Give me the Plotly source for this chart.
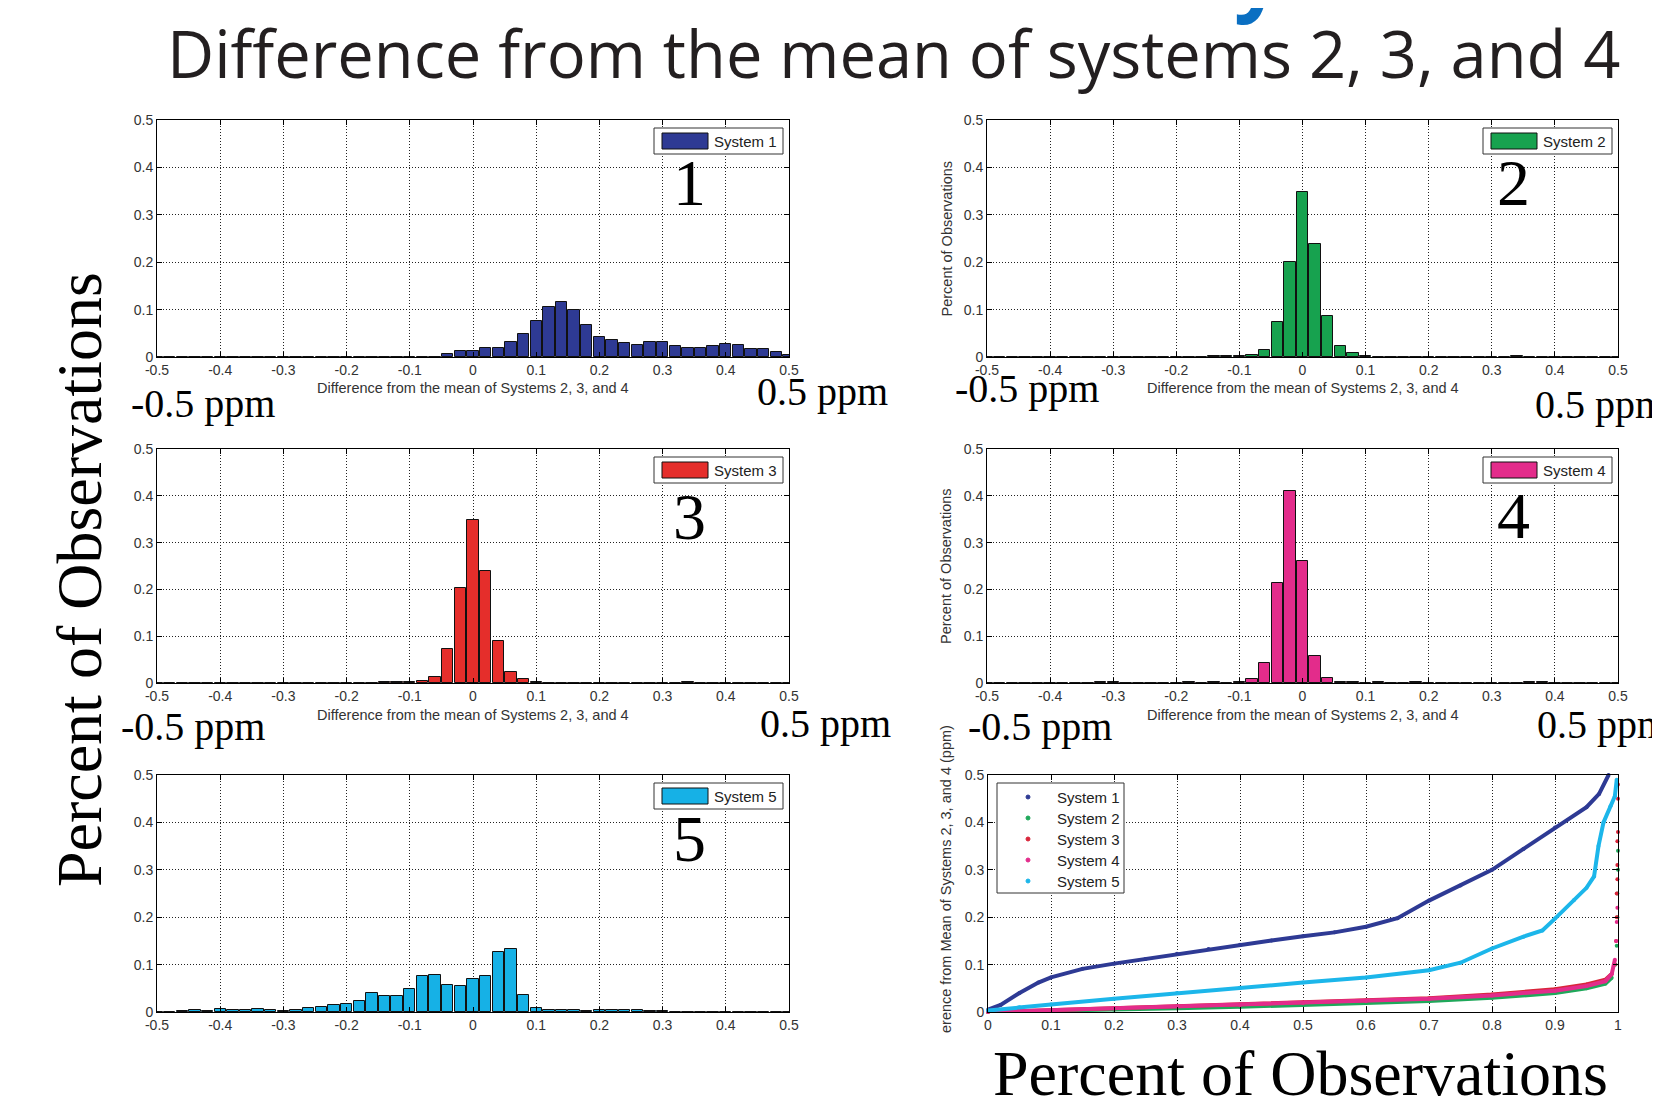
import plotly.graph_objects as go

W, H = 1660, 1105
OFF = 8  # the page body adds an 8px margin; positions below are screen pixels

# ---------------- data ----------------
bin_centers = [-0.50, -0.48, -0.46, -0.44, -0.42, -0.40, -0.38, -0.36, -0.34, -0.32,
               -0.30, -0.28, -0.26, -0.24, -0.22, -0.20, -0.18, -0.16, -0.14, -0.12,
               -0.10, -0.08, -0.06, -0.04, -0.02, 0.00, 0.02, 0.04, 0.06, 0.08,
               0.10, 0.12, 0.14, 0.16, 0.18, 0.20, 0.22, 0.24, 0.26, 0.28,
               0.30, 0.32, 0.34, 0.36, 0.38, 0.40, 0.42, 0.44, 0.46, 0.48, 0.50]

sys1_pct = [0, 0, 0, 0, 0, 0, 0, 0, 0.001, 0,
            0, 0, 0, 0.001, 0.001, 0, 0.001, 0, 0.001, 0.001,
            0.001, 0.001, 0.001, 0.007, 0.012, 0.013, 0.018, 0.018, 0.031, 0.049,
            0.075, 0.106, 0.115, 0.100, 0.068, 0.042, 0.036, 0.030, 0.026, 0.031,
            0.031, 0.023, 0.019, 0.019, 0.023, 0.028, 0.026, 0.017, 0.017, 0.010, 0.005]

sys2_pct = [0, 0, 0, 0, 0, 0, 0, 0, 0, 0,
            0, 0, 0, 0, 0, 0, 0, 0, 0.002, 0.002,
            0.002, 0.004, 0.014, 0.073, 0.200, 0.348, 0.238, 0.087, 0.024, 0.009,
            0.002, 0, 0, 0, 0, 0, 0, 0, 0, 0,
            0, 0, 0.002, 0, 0, 0, 0, 0, 0, 0, 0]

sys3_pct = [0, 0, 0, 0, 0, 0, 0, 0, 0, 0,
            0, 0, 0, 0, 0, 0, 0, 0, 0.002, 0.002,
            0.002, 0.005, 0.013, 0.072, 0.203, 0.349, 0.239, 0.089, 0.023, 0.009,
            0.002, 0, 0, 0, 0, 0, 0, 0, 0, 0,
            0, 0, 0.002, 0, 0, 0, 0, 0, 0, 0, 0]

sys4_pct = [0, 0, 0, 0, 0, 0, 0, 0, 0, 0.002,
            0.002, 0, 0, 0, 0, 0, 0.002, 0, 0.002, 0,
            0.002, 0.008, 0.043, 0.213, 0.410, 0.261, 0.057, 0.010, 0.002, 0.002,
            0, 0.002, 0, 0, 0.002, 0, 0, 0, 0, 0,
            0, 0, 0, 0.002, 0.002, 0, 0, 0, 0, 0, 0]

sys5_pct = [0.001, 0.001, 0.002, 0.005, 0.002, 0.007, 0.005, 0.005, 0.007, 0.005,
            0.002, 0.004, 0.009, 0.011, 0.014, 0.017, 0.023, 0.040, 0.033, 0.033,
            0.049, 0.075, 0.079, 0.056, 0.054, 0.070, 0.077, 0.126, 0.133, 0.035,
            0.009, 0.005, 0.005, 0.005, 0.002, 0.005, 0.005, 0.005, 0.005, 0.002,
            0.002, 0, 0, 0, 0, 0, 0, 0, 0, 0, 0]

hist_ticks = [-0.5, -0.4, -0.3, -0.2, -0.1, 0, 0.1, 0.2, 0.3, 0.4, 0.5]
hist_tick_labels = ["-0.5", "-0.4", "-0.3", "-0.2", "-0.1", "0", "0.1", "0.2", "0.3", "0.4", "0.5"]
y_ticks = [0, 0.1, 0.2, 0.3, 0.4, 0.5]
y_tick_labels = ["0", "0.1", "0.2", "0.3", "0.4", "0.5"]
cdf_ticks = [0, 0.1, 0.2, 0.3, 0.4, 0.5, 0.6, 0.7, 0.8, 0.9, 1.0]
cdf_tick_labels = ["0", "0.1", "0.2", "0.3", "0.4", "0.5", "0.6", "0.7", "0.8", "0.9", "1"]

# cumulative curves: fraction of observations vs difference (ppm)
cdf1_x = [0, 0.02, 0.05, 0.08, 0.10, 0.15, 0.20, 0.25, 0.30, 0.35, 0.40, 0.45, 0.50,
          0.55, 0.60, 0.65, 0.70, 0.75, 0.80, 0.85, 0.90, 0.95, 0.97, 0.985]
cdf1_y = [0.005, 0.015, 0.040, 0.062, 0.073, 0.091, 0.102, 0.112, 0.123, 0.133, 0.142, 0.151, 0.160,
          0.168, 0.180, 0.198, 0.235, 0.267, 0.300, 0.344, 0.389, 0.432, 0.460, 0.500]

cdf2_x = [0, 0.1, 0.2, 0.3, 0.4, 0.5, 0.6, 0.7, 0.8, 0.9, 0.95, 0.98, 0.99]
cdf2_y = [0, 0.002, 0.005, 0.008, 0.011, 0.015, 0.019, 0.023, 0.030, 0.040, 0.050, 0.060, 0.072]
cdf2_tail_x = [0.996, 0.998, 0.999, 0.999, 1.0, 1.0]
cdf2_tail_y = [0.100, 0.140, 0.200, 0.250, 0.300, 0.340]

cdf3_x = [0, 0.1, 0.2, 0.3, 0.4, 0.5, 0.6, 0.7, 0.8, 0.9, 0.95, 0.98, 0.99]
cdf3_y = [0, 0.004, 0.008, 0.012, 0.016, 0.020, 0.024, 0.029, 0.037, 0.048, 0.058, 0.068, 0.080]
cdf3_tail_x = [0.995, 0.997, 0.998, 0.998, 0.999, 0.999, 0.999, 1.0, 1.0, 1.0]
cdf3_tail_y = [0.100, 0.150, 0.200, 0.250, 0.280, 0.310, 0.360, 0.380, 0.450, 0.480]

cdf4_x = [0, 0.1, 0.2, 0.3, 0.4, 0.5, 0.6, 0.7, 0.8, 0.9, 0.95, 0.98, 0.99, 0.995]
cdf4_y = [0, 0.004, 0.008, 0.012, 0.015, 0.019, 0.023, 0.028, 0.035, 0.045, 0.055, 0.065, 0.080, 0.110]
cdf4_tail_x = [0.997, 0.998, 0.999]
cdf4_tail_y = [0.150, 0.190, 0.220]

cdf5_x = [0, 0.05, 0.10, 0.20, 0.30, 0.40, 0.50, 0.60, 0.70, 0.75, 0.80, 0.85, 0.88, 0.90,
          0.93, 0.95, 0.962, 0.969, 0.977, 0.988, 0.995, 0.998]
cdf5_y = [0.003, 0.010, 0.016, 0.028, 0.040, 0.051, 0.062, 0.073, 0.088, 0.104, 0.134, 0.159, 0.172, 0.197,
          0.236, 0.262, 0.286, 0.350, 0.400, 0.434, 0.455, 0.490]

system_names = ["System 1", "System 2", "System 3", "System 4", "System 5"]
colors = ["#2E3A94", "#17A24F", "#E52E2B", "#E32C8B", "#16B1E6"]
cdf_colors = ["#2E3A94", "#1FA85A", "#D9253A", "#E32C8B", "#1CB6EA"]

# ---------------- layout helpers ----------------
def fx(p):
    return (p - OFF) / W

def fy(p):
    return 1 - (p - OFF) / H

# panel pixel boxes on screen: (left, right, top, bottom)
panels = [(157, 789, 120, 357), (987, 1618, 120, 357),
          (157, 789, 449, 683), (987, 1618, 449, 683),
          (157, 789, 775, 1012), (988, 1618, 775, 1012)]

SANS = "Liberation Sans, Arial, sans-serif"
TICK_FONT = dict(family=SANS, size=14, color="#333333")
SERIF = "Liberation Serif, Times New Roman, serif"

fig = go.Figure()

hist_data = [sys1_pct, sys2_pct, sys3_pct, sys4_pct, sys5_pct]
for i, vals in enumerate(hist_data):
    ax = "" if i == 0 else str(i + 1)
    fig.add_trace(go.Bar(
        x=bin_centers, y=vals, width=0.018,
        marker=dict(color=colors[i], line=dict(color="#111111", width=1)),
        xaxis="x" + ax, yaxis="y" + ax, showlegend=False, name=system_names[i]))

cdf_series = [(cdf1_x, cdf1_y, None, None), (cdf2_x, cdf2_y, cdf2_tail_x, cdf2_tail_y),
              (cdf3_x, cdf3_y, cdf3_tail_x, cdf3_tail_y), (cdf4_x, cdf4_y, cdf4_tail_x, cdf4_tail_y),
              (cdf5_x, cdf5_y, None, None)]
for i, (cx, cy, tx, ty) in enumerate(cdf_series):
    fig.add_trace(go.Scatter(
        x=cx, y=cy, mode="lines+markers", xaxis="x6", yaxis="y6",
        line=dict(color=cdf_colors[i], width=4), marker=dict(color=cdf_colors[i], size=4),
        showlegend=False, name=system_names[i], cliponaxis=False))
    if tx is not None:
        fig.add_trace(go.Scatter(
            x=tx, y=ty, mode="markers", xaxis="x6", yaxis="y6",
            marker=dict(color=cdf_colors[i], size=4), showlegend=False,
            name=system_names[i], cliponaxis=False))

layout = dict(width=W, height=H, margin=dict(l=0, r=0, t=0, b=0, pad=0, autoexpand=False),
              template="none", paper_bgcolor="white", plot_bgcolor="white", bargap=0)

for i, (l, r, t, b) in enumerate(panels):
    ax = "" if i == 0 else str(i + 1)
    xkey = "xaxis" + ax
    ykey = "yaxis" + ax
    if i < 5:
        xr, tv, tt = [-0.5, 0.5], hist_ticks, hist_tick_labels
    else:
        xr, tv, tt = [0, 1], cdf_ticks, cdf_tick_labels
    common = dict(showline=True, linecolor="#000000", linewidth=1, mirror="ticks",
                  ticks="inside", ticklen=5, tickcolor="#000000", automargin=False,
                  showgrid=True, gridcolor="#222222", griddash="1px,2px", gridwidth=1,
                  zeroline=False, tickfont=TICK_FONT, fixedrange=True)
    layout[xkey] = dict(domain=[fx(l), fx(r)], anchor="y" + ax, range=xr,
                        tickvals=tv, ticktext=tt, **common)
    layout[ykey] = dict(domain=[fy(b), fy(t)], anchor="x" + ax, range=[0, 0.5],
                        tickvals=y_ticks, ticktext=y_tick_labels, **common)

fig.update_layout(**layout)

annotations = []
shapes = []

def text(x, y, s, size, family, color="#000000", xanchor="center", yanchor="middle", angle=0):
    annotations.append(dict(x=fx(x), y=fy(y), xref="paper", yref="paper", text=s,
                            showarrow=False, xanchor=xanchor, yanchor=yanchor, textangle=angle,
                            font=dict(size=size, family=family, color=color)))

# main title
text(893, 53, "Difference from the mean of systems 2, 3, and 4", 65,
     "Open Sans, Noto Sans, sans-serif", color="#231F20")
# cut-off blue glyph from a heading above
text(1258, 32, "<b>y</b>", 84, "Open Sans, sans-serif", color="#0A6FC2", yanchor="bottom")

# big side labels
text(79, 580, "Percent of Observations", 64, SERIF, angle=-90)
text(1300, 1073, "Percent of Observations", 64, SERIF)

# panel numbers
for (x, y, s) in [(689, 182, "1"), (1513, 182, "2"), (689, 517, "3"), (1513, 516, "4"), (689, 838, "5")]:
    text(x, y, s, 66, SERIF)

# ppm labels
for (x, y, s, xa) in [(203, 403, "-0.5 ppm", "center"), (822, 391, "0.5 ppm", "center"),
                      (1027, 388, "-0.5 ppm", "center"), (1533, 404, "0.5 ppm", "left"),
                      (193, 726, "-0.5 ppm", "center"), (825, 723, "0.5 ppm", "center"),
                      (1040, 726, "-0.5 ppm", "center"), (1535, 724, "0.5 ppm", "left")]:
    text(x, y, s, 40, SERIF, xanchor=xa)

# small axis titles
XT = "Difference from the mean of Systems 2, 3, and 4"
for (l, r, t, b), yy in [(panels[0], 388), (panels[1], 388), (panels[2], 715), (panels[3], 715)]:
    text((l + r) / 2, yy, XT, 14.5, SANS, color="#333333")
for (l, r, t, b) in [panels[1], panels[3]]:
    text(946, (t + b) / 2, "Percent of Observations", 14.5, SANS, color="#333333", angle=-90)
text(946, 879, "erence from Mean of Systems 2, 3, and 4 (ppm)", 14.5, SANS, color="#333333", angle=-90)

# histogram legends
for i in range(5):
    l, r, t, b = panels[i]
    bx1, by0 = r - 6, t + 8
    bx0, by1 = bx1 - 129, by0 + 26
    shapes.append(dict(type="rect", xref="paper", yref="paper",
                       x0=fx(bx0), x1=fx(bx1), y0=fy(by1), y1=fy(by0),
                       line=dict(color="#333333", width=1), fillcolor="white"))
    shapes.append(dict(type="rect", xref="paper", yref="paper",
                       x0=fx(bx0 + 8), x1=fx(bx0 + 54), y0=fy(by1 - 5), y1=fy(by0 + 5),
                       line=dict(color="#111111", width=1), fillcolor=colors[i]))
    text(bx0 + 58, by0 + 13, system_names[i], 15, SANS, color="#222222", xanchor="left")

# cdf legend
shapes.append(dict(type="rect", xref="paper", yref="paper",
                   x0=fx(997), x1=fx(1124), y0=fy(893), y1=fy(783),
                   line=dict(color="#333333", width=1), fillcolor="white"))
for i in range(5):
    yy = 797 + 21 * i
    shapes.append(dict(type="circle", xref="paper", yref="paper",
                       x0=fx(1026), x1=fx(1030), y0=fy(yy + 2), y1=fy(yy - 2),
                       line=dict(color=cdf_colors[i], width=1), fillcolor=cdf_colors[i]))
    text(1055, yy, system_names[i], 15, SANS, color="#222222", xanchor="left")

fig.update_layout(annotations=annotations, shapes=shapes)
fig.write_html("out.html")
